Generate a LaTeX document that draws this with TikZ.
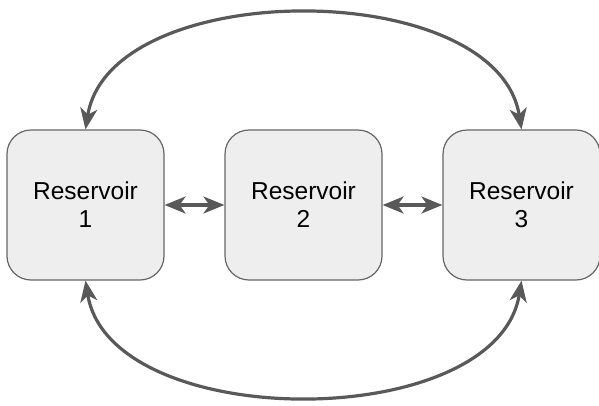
\documentclass[tikz,border=0pt]{standalone}
\usepackage{fontspec}
\setmainfont{Liberation Sans}
\usetikzlibrary{arrows.meta}
\definecolor{boxfill}{HTML}{EEEEEE}
\definecolor{boxline}{HTML}{666666}
\definecolor{arr}{HTML}{595959}
\begin{document}
\begin{tikzpicture}[x=1pt,y=-1pt,
  res/.style={draw=boxline, fill=boxfill, line width=1.2pt, rounded corners=24pt,
    minimum width=157pt, minimum height=150pt, inner sep=0pt, align=center,
    font=\fontsize{24.5}{28}\selectfont},
  conn/.style={draw=arr, line width=3.2pt, {Stealth[length=21pt,width=17pt,inset=6pt]}-{Stealth[length=21pt,width=17pt,inset=6pt]}}
]
\useasboundingbox (0,0) rectangle (599,405);
\node[res] (r1) at (85.5,205) {Reservoir\\1};
\node[res] (r2) at (303.5,205) {Reservoir\\2};
\node[res] (r3) at (521.5,205) {Reservoir\\3};
\draw[conn] (r1.east) -- (r2.west);
\draw[conn] (r2.east) -- (r3.west);
\coordinate (t1) at (r1.north);
\coordinate (t3) at (r3.north);
\coordinate (b1) at (r1.south);
\coordinate (b3) at (r3.south);
\draw[conn] (t1) .. controls (110,-24) and (497,-24) .. (t3);
\draw[conn] (b1) .. controls (110,434) and (497,434) .. (b3);
\end{tikzpicture}
\end{document}
